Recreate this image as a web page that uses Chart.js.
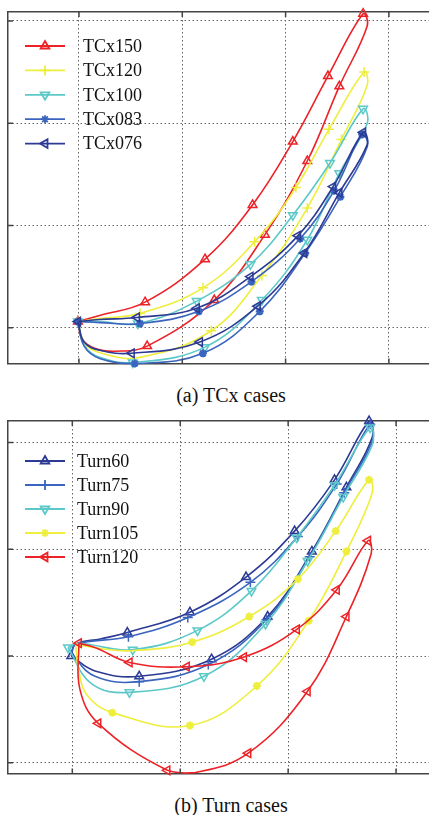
<!DOCTYPE html>
<html>
<head>
<meta charset="utf-8">
<script src="https://cdn.jsdelivr.net/npm/chart.js@4"></script>
<style>
  html, body { margin: 0; padding: 0; background: #fff; overflow: hidden; }
  #wrap { position: relative; width: 429px; height: 815px; overflow: hidden; }
  canvas { position: absolute; left: 0; }
  #chartA { top: 0; }
  #chartB { top: 405px; }
  .cap { position: absolute; left: 0; width: 462px; text-align: center;
         font-family: "Liberation Serif", "DejaVu Serif", serif; font-size: 20px; line-height: 24px; color: #111; }
</style>
</head>
<body>
<div id="wrap">
  <canvas id="chartA" width="470" height="370"></canvas>
  <div class="cap" style="top:383px">(a) TCx cases</div>
  <canvas id="chartB" width="470" height="375"></canvas>
  <div class="cap" style="top:793px">(b) Turn cases</div>
</div>
<script>
// grid ticks
const ticksAX = [0, 1, 2, 3];
const ticksAY = [0, 1, 2, 3];
const ticksBX = [0, 1, 2, 3];
const ticksBY = [-1, 0, 1, 2];

// (a) TCx cases - each loop: up branch then back along the lower branch
const tcx150X = [-0.01, 0.20, 0.64, 1.22, 1.68, 2.07, 2.41, 2.75, 2.79, 2.52, 2.21, 1.80, 1.31, 0.66, 0.35, 0.15, 0.03, -0.01];
const tcx150Y = [0.06, 0.12, 0.25, 0.67, 1.20, 1.82, 2.46, 3.07, 2.95, 2.36, 1.63, 0.91, 0.27, -0.18, -0.23, -0.20, -0.11, 0.06];
const tcx150M = [1, 0, 1, 1, 1, 1, 1, 1, 0, 1, 1, 1, 1, 1, 0, 0, 0, 0];

const tcx120X = [-0.01, 0.20, 0.59, 1.20, 1.70, 2.10, 2.42, 2.76, 2.79, 2.54, 2.21, 1.77, 1.28, 0.59, 0.22, 0.06, -0.01];
const tcx120Y = [0.06, 0.09, 0.14, 0.39, 0.84, 1.37, 1.94, 2.50, 2.37, 1.84, 1.17, 0.51, -0.03, -0.29, -0.25, -0.16, 0.06];
const tcx120M = [1, 0, 1, 1, 1, 1, 1, 1, 0, 1, 1, 1, 1, 0, 0, 0, 0];

const tcx100X = [-0.01, 0.20, 0.57, 1.14, 1.66, 2.07, 2.43, 2.75, 2.79, 2.52, 2.21, 1.77, 1.22, 0.52, 0.20, 0.05, -0.01];
const tcx100Y = [0.06, 0.06, 0.04, 0.26, 0.62, 1.10, 1.61, 2.14, 2.00, 1.51, 0.86, 0.27, -0.19, -0.34, -0.29, -0.17, 0.06];
const tcx100M = [1, 0, 1, 1, 1, 1, 1, 1, 0, 1, 1, 1, 1, 1, 0, 0, 0];

const tcx083X = [-0.01, 0.20, 0.59, 1.16, 1.67, 2.14, 2.47, 2.74, 2.79, 2.53, 2.19, 1.75, 1.20, 0.54, 0.20, 0.05, -0.01];
const tcx083Y = [0.06, 0.05, 0.04, 0.16, 0.45, 0.87, 1.34, 1.89, 1.77, 1.28, 0.73, 0.16, -0.25, -0.35, -0.30, -0.18, 0.06];
const tcx083M = [1, 0, 1, 1, 1, 1, 1, 1, 0, 1, 1, 1, 1, 1, 0, 0, 0];

const tcx076X = [-0.01, 0.20, 0.56, 1.14, 1.66, 2.12, 2.46, 2.75, 2.79, 2.52, 2.18, 1.73, 1.17, 0.51, 0.20, 0.05, -0.01];
const tcx076Y = [0.06, 0.08, 0.10, 0.19, 0.50, 0.90, 1.38, 1.91, 1.79, 1.32, 0.73, 0.21, -0.14, -0.25, -0.22, -0.14, 0.06];
const tcx076M = [1, 0, 1, 1, 1, 1, 1, 1, 0, 1, 1, 1, 1, 1, 0, 0, 0];

// (b) Turn cases
const turn60X = [-0.01, 0.03, 0.26, 0.51, 1.09, 1.61, 2.06, 2.43, 2.75, 2.78, 2.54, 2.22, 1.81, 1.29, 0.62, 0.21, -0.01];
const turn60Y = [0.00, 0.11, 0.16, 0.22, 0.41, 0.74, 1.17, 1.65, 2.20, 2.05, 1.58, 0.98, 0.37, -0.03, -0.19, -0.14, 0.00];
const turn60M = [1, 0, 0, 1, 1, 1, 1, 1, 1, 0, 1, 1, 1, 1, 1, 0, 0];

const turn75X = [-0.01, 0.03, 0.52, 1.07, 1.65, 2.09, 2.45, 2.76, 2.78, 2.52, 2.20, 1.80, 1.26, 0.62, 0.21, -0.01];
const turn75Y = [0.02, 0.11, 0.18, 0.36, 0.69, 1.12, 1.61, 2.17, 2.01, 1.53, 0.93, 0.34, -0.08, -0.24, -0.19, 0.02];
const turn75M = [0, 0, 1, 1, 1, 1, 1, 1, 0, 1, 1, 1, 1, 1, 0, 0];

const turn90X = [-0.04, 0.05, 0.56, 1.16, 1.66, 2.08, 2.43, 2.76, 2.78, 2.51, 2.18, 1.79, 1.22, 0.53, 0.18, -0.04];
const turn90Y = [0.08, 0.12, 0.06, 0.24, 0.61, 1.11, 1.60, 2.14, 1.98, 1.49, 0.89, 0.30, -0.19, -0.34, -0.26, 0.08];
const turn90M = [1, 0, 1, 1, 1, 1, 1, 1, 0, 1, 1, 1, 1, 1, 0, 0];

const turn105X = [0.03, 0.26, 0.55, 1.11, 1.64, 2.09, 2.44, 2.75, 2.78, 2.54, 2.19, 1.71, 1.09, 0.37, 0.14, 0.06, 0.03];
const turn105Y = [0.11, 0.07, 0.05, 0.13, 0.37, 0.72, 1.17, 1.65, 1.53, 0.98, 0.33, -0.28, -0.65, -0.53, -0.37, -0.14, 0.11];
const turn105M = [0, 0, 0, 1, 1, 1, 1, 1, 0, 1, 1, 1, 1, 1, 0, 0, 0];

const turn120X = [0.06, 0.21, 0.53, 1.06, 1.59, 2.08, 2.45, 2.74, 2.77, 2.54, 2.18, 1.63, 1.14, 0.88, 0.24, 0.07, 0.06];
const turn120Y = [0.12, 0.08, -0.06, -0.10, -0.01, 0.25, 0.62, 1.08, 0.96, 0.37, -0.33, -0.91, -1.09, -1.07, -0.63, -0.31, 0.12];
const turn120M = [1, 0, 1, 1, 1, 1, 1, 1, 0, 1, 1, 1, 0, 1, 1, 0, 0];

const RED = '#ec2227', YELLOW = '#eeee3c', CYAN = '#5cc8c8', BLUE = '#3a64be', NAVY = '#2c3a93';

function loop(label, xs, ys, marks, color, style, rot, n, i) {
    const star = style === 'star';
    return {
        label: label,
        data: xs.map((x, k) => ({ x: x, y: ys[k] })),
        showLine: true,
        borderColor: color,
        borderWidth: 1.6,
        tension: 0.4,
        pointStyle: style,
        pointRotation: rot,
        pointRadius: marks.map(m => m ? (star ? 4 : 5) : 0),
        pointBorderColor: color,
        pointBackgroundColor: 'rgba(0,0,0,0)',
        pointBorderWidth: star ? 2.2 : 1.5,
        clip: false,
        order: n - 1 - i // later series on top
    };
}

// inward tick marks on the frame
const innerTicks = {
    id: 'innerTicks',
    afterDatasetsDraw(chart) {
        const { ctx, chartArea: a, scales } = chart;
        ctx.save();
        ctx.strokeStyle = '#444';
        ctx.lineWidth = 1.5;
        ctx.beginPath();
        scales.x.ticks.forEach(t => {
            const px = scales.x.getPixelForValue(t.value);
            ctx.moveTo(px, a.top); ctx.lineTo(px, a.top + 5);
            ctx.moveTo(px, a.bottom); ctx.lineTo(px, a.bottom - 5);
        });
        scales.y.ticks.forEach(t => {
            const py = scales.y.getPixelForValue(t.value);
            ctx.moveTo(a.left, py); ctx.lineTo(a.left + 5, py);
        });
        ctx.stroke();
        ctx.restore();
    }
};

// legend in the top-left corner, drawn by hand
const cornerLegend = {
    id: 'cornerLegend',
    afterDraw(chart, args, o) {
        const ctx = chart.ctx;
        ctx.save();
        chart.data.datasets.forEach((ds, i) => {
            const y = o.top + i * o.gap;
            ctx.strokeStyle = ds.borderColor;
            ctx.lineWidth = 1.8;
            ctx.beginPath();
            ctx.moveTo(o.x0, y); ctx.lineTo(o.x1, y);
            ctx.stroke();
            ctx.fillStyle = 'rgba(0,0,0,0)';
            const star = ds.pointStyle === 'star';
            Chart.helpers.drawPoint(ctx, {
                pointStyle: ds.pointStyle, rotation: ds.pointRotation,
                radius: star ? 4 : 5, borderWidth: ds.pointBorderWidth
            }, (o.x0 + o.x1) / 2, y);
            ctx.fillStyle = '#111';
            ctx.font = '18px "Liberation Serif", serif';
            ctx.textBaseline = 'middle';
            ctx.fillText(ds.label, o.tx, y + 1);
        });
        ctx.restore();
    }
};

function scales(xr, yr, xt, yt) {
    const hide = { display: false };
    const gridOpts = { color: '#666', lineWidth: 1, drawTicks: false };
    const borderOpts = { display: true, color: '#444', width: 1.5, dash: [1.5, 2.5] };
    return {
        x: { type: 'linear', position: 'bottom', min: xr[0], max: xr[1], ticks: hide,
             grid: gridOpts, border: borderOpts,
             afterBuildTicks: s => { s.ticks = xt.map(v => ({ value: v })); } },
        xTop: { type: 'linear', position: 'top', min: xr[0], max: xr[1], ticks: hide,
                grid: { display: false, drawTicks: false },
                border: { display: true, color: '#444', width: 1.5 } },
        y: { type: 'linear', position: 'left', min: yr[0], max: yr[1], ticks: hide,
             grid: gridOpts, border: borderOpts,
             afterBuildTicks: s => { s.ticks = yt.map(v => ({ value: v })); } }
    };
}

const dsA = [
    ['TCx150', tcx150X, tcx150Y, tcx150M, RED, 'triangle', 0],
    ['TCx120', tcx120X, tcx120Y, tcx120M, YELLOW, 'cross', 0],
    ['TCx100', tcx100X, tcx100Y, tcx100M, CYAN, 'triangle', 180],
    ['TCx083', tcx083X, tcx083Y, tcx083M, BLUE, 'star', 0],
    ['TCx076', tcx076X, tcx076Y, tcx076M, NAVY, 'triangle', -90]
];
const dsB = [
    ['Turn60', turn60X, turn60Y, turn60M, NAVY, 'triangle', 0],
    ['Turn75', turn75X, turn75Y, turn75M, BLUE, 'cross', 0],
    ['Turn90', turn90X, turn90Y, turn90M, CYAN, 'triangle', 180],
    ['Turn105', turn105X, turn105Y, turn105M, YELLOW, 'star', 0],
    ['Turn120', turn120X, turn120Y, turn120M, RED, 'triangle', -90]
];

function makeChart(id, list, xr, yr, xt, yt, pad, leg) {
    return new Chart(document.getElementById(id).getContext('2d'), {
        type: 'scatter',
        data: { datasets: list.map((d, i) => loop(d[0], d[1], d[2], d[3], d[4], d[5], d[6], list.length, i)) },
        options: {
            responsive: false,
            animation: false,
            events: [],
            layout: { padding: pad },
            scales: scales(xr, yr, xt, yt),
            plugins: { legend: { display: false }, tooltip: { enabled: false }, cornerLegend: leg }
        },
        plugins: [innerTicks, cornerLegend]
    });
}

const chartA = makeChart('chartA', dsA, [-0.687, 3.722], [-0.35, 3.087], ticksAX, ticksAY,
    { left: 8, top: 12, right: 0, bottom: 1.5 }, { x0: 25, x1: 65, tx: 83, top: 46, gap: 24.4 });
const chartB = makeChart('chartB', dsB, [-0.596, 3.625], [-1.10, 2.201], ticksBX, ticksBY,
    { left: 8, top: 16, right: 0, bottom: 3.5 }, { x0: 25, x1: 65, tx: 77, top: 56, gap: 24 });
</script>
</body>
</html>
